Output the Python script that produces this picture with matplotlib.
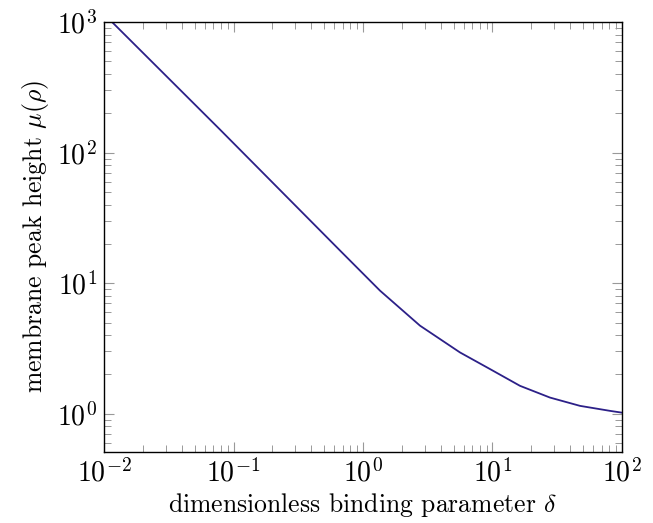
import matplotlib
matplotlib.use("Agg")
import matplotlib.pyplot as plt
import numpy as np

plt.rcParams['font.family'] = 'serif'
plt.rcParams['font.serif'] = ['cmr10']
plt.rcParams['mathtext.fontset'] = 'cm'
plt.rcParams['axes.formatter.use_mathtext'] = True

# values (log-log curve)
delta = [0.01153, 0.0787, 0.664, 1.353, 2.755, 5.61, 9.57, 16.31, 27.8, 47.4, 80.8, 100.0]
mu = [1000.0, 150.0, 17.8, 8.77, 4.73, 2.95, 2.20, 1.637, 1.331, 1.150, 1.053, 1.02]

fig = plt.figure(figsize=(6.53, 5.23), dpi=100)
ax = fig.add_axes([0.1593, 0.1358, 0.7932, 0.8221])

ax.plot(delta, mu, color='#2c2088', linewidth=1.3)

ax.set_xscale('log')
ax.set_yscale('log')
ax.set_xlim(1e-2, 1e2)
ax.set_ylim(0.51, 1e3)

ax.tick_params(which='both', direction='in', top=True, right=True, color='#999999', labelsize=20)
ax.tick_params(which='major', length=7.5, width=0.8, pad=5)
ax.tick_params(which='minor', length=4.8, width=0.7)
for s in ax.spines.values():
    s.set_linewidth(1.0)

ax.set_xlabel(r'dimensionless binding parameter $\delta$', fontsize=18.5, labelpad=2)
ax.set_ylabel(r'membrane peak height $\mu(\rho)$', fontsize=18.5, labelpad=4)

fig.savefig('out.png', dpi=100)
